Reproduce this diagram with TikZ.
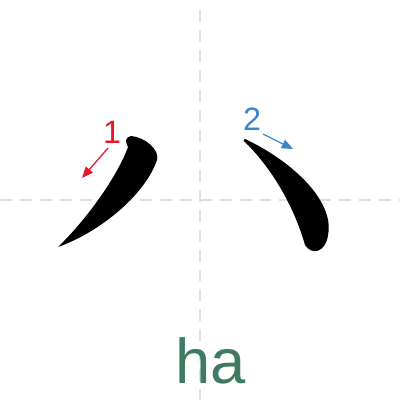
\documentclass[tikz,border=0pt]{standalone}
\usepackage{fontspec}
\setmainfont{Liberation Sans}
\usetikzlibrary{arrows.meta}
\definecolor{gridgray}{HTML}{DFDFDF}
\definecolor{orderred}{HTML}{E8162B}
\definecolor{orderblue}{HTML}{3A85CC}
\definecolor{pinyingreen}{HTML}{3E7B62}
\tikzset{
    guide/.style={gridgray, line width=2pt, dash pattern=on 8.5pt off 5.7pt},
    orderarrow/.style={line width=0.9pt, -{Triangle[length=8pt,width=6.5pt]}},
    ordernum/.style={anchor=base, font=\fontsize{23}{26}\selectfont},
    brush/.style={fill=black}
}
\begin{document}
\begin{tikzpicture}[x=0.25mm, y=-0.25mm]
        \useasboundingbox (0,0) rectangle (400,400);
        % guide lines
        \draw[guide] (200,10) -- (200,400);
        \draw[guide] (0,200) -- (400,200);
        % stroke 1
        \fill[brush] (58,247) .. controls (100,232) and (145,195) .. (157,160)
            .. controls (160,150) and (145,137) .. (131,136)
            .. controls (125,137) and (125,142) .. (128,147)
            .. controls (118,175) and (88,218) .. (58,247) -- cycle;
        % stroke 2
        \fill[brush] (245,139) .. controls (290,160) and (335,200) .. (328,235)
            .. controls (326,252) and (312,256) .. (305,245)
            .. controls (295,210) and (275,172) .. (246,143)
            .. controls (243,141) and (243,139) .. (245,139) -- cycle;
        % stroke order
        \node[ordernum, text=orderred] (num1) at (112,143) {1};
        \coordinate (from1) at (108,148);
        \coordinate (to1) at (82,178);
        \draw[orderarrow, orderred] (from1) -- (to1);
        \node[ordernum, text=orderblue] (num2) at (252,130) {2};
        \coordinate (from2) at (263,134);
        \coordinate (to2) at (293,149);
        \draw[orderarrow, orderblue] (from2) -- (to2);
        % pinyin
        \node[anchor=base, text=pinyingreen, font=\fontsize{45}{50}\selectfont] (pinyin) at (211,383) {ha};
    \end{tikzpicture}
\end{document}
